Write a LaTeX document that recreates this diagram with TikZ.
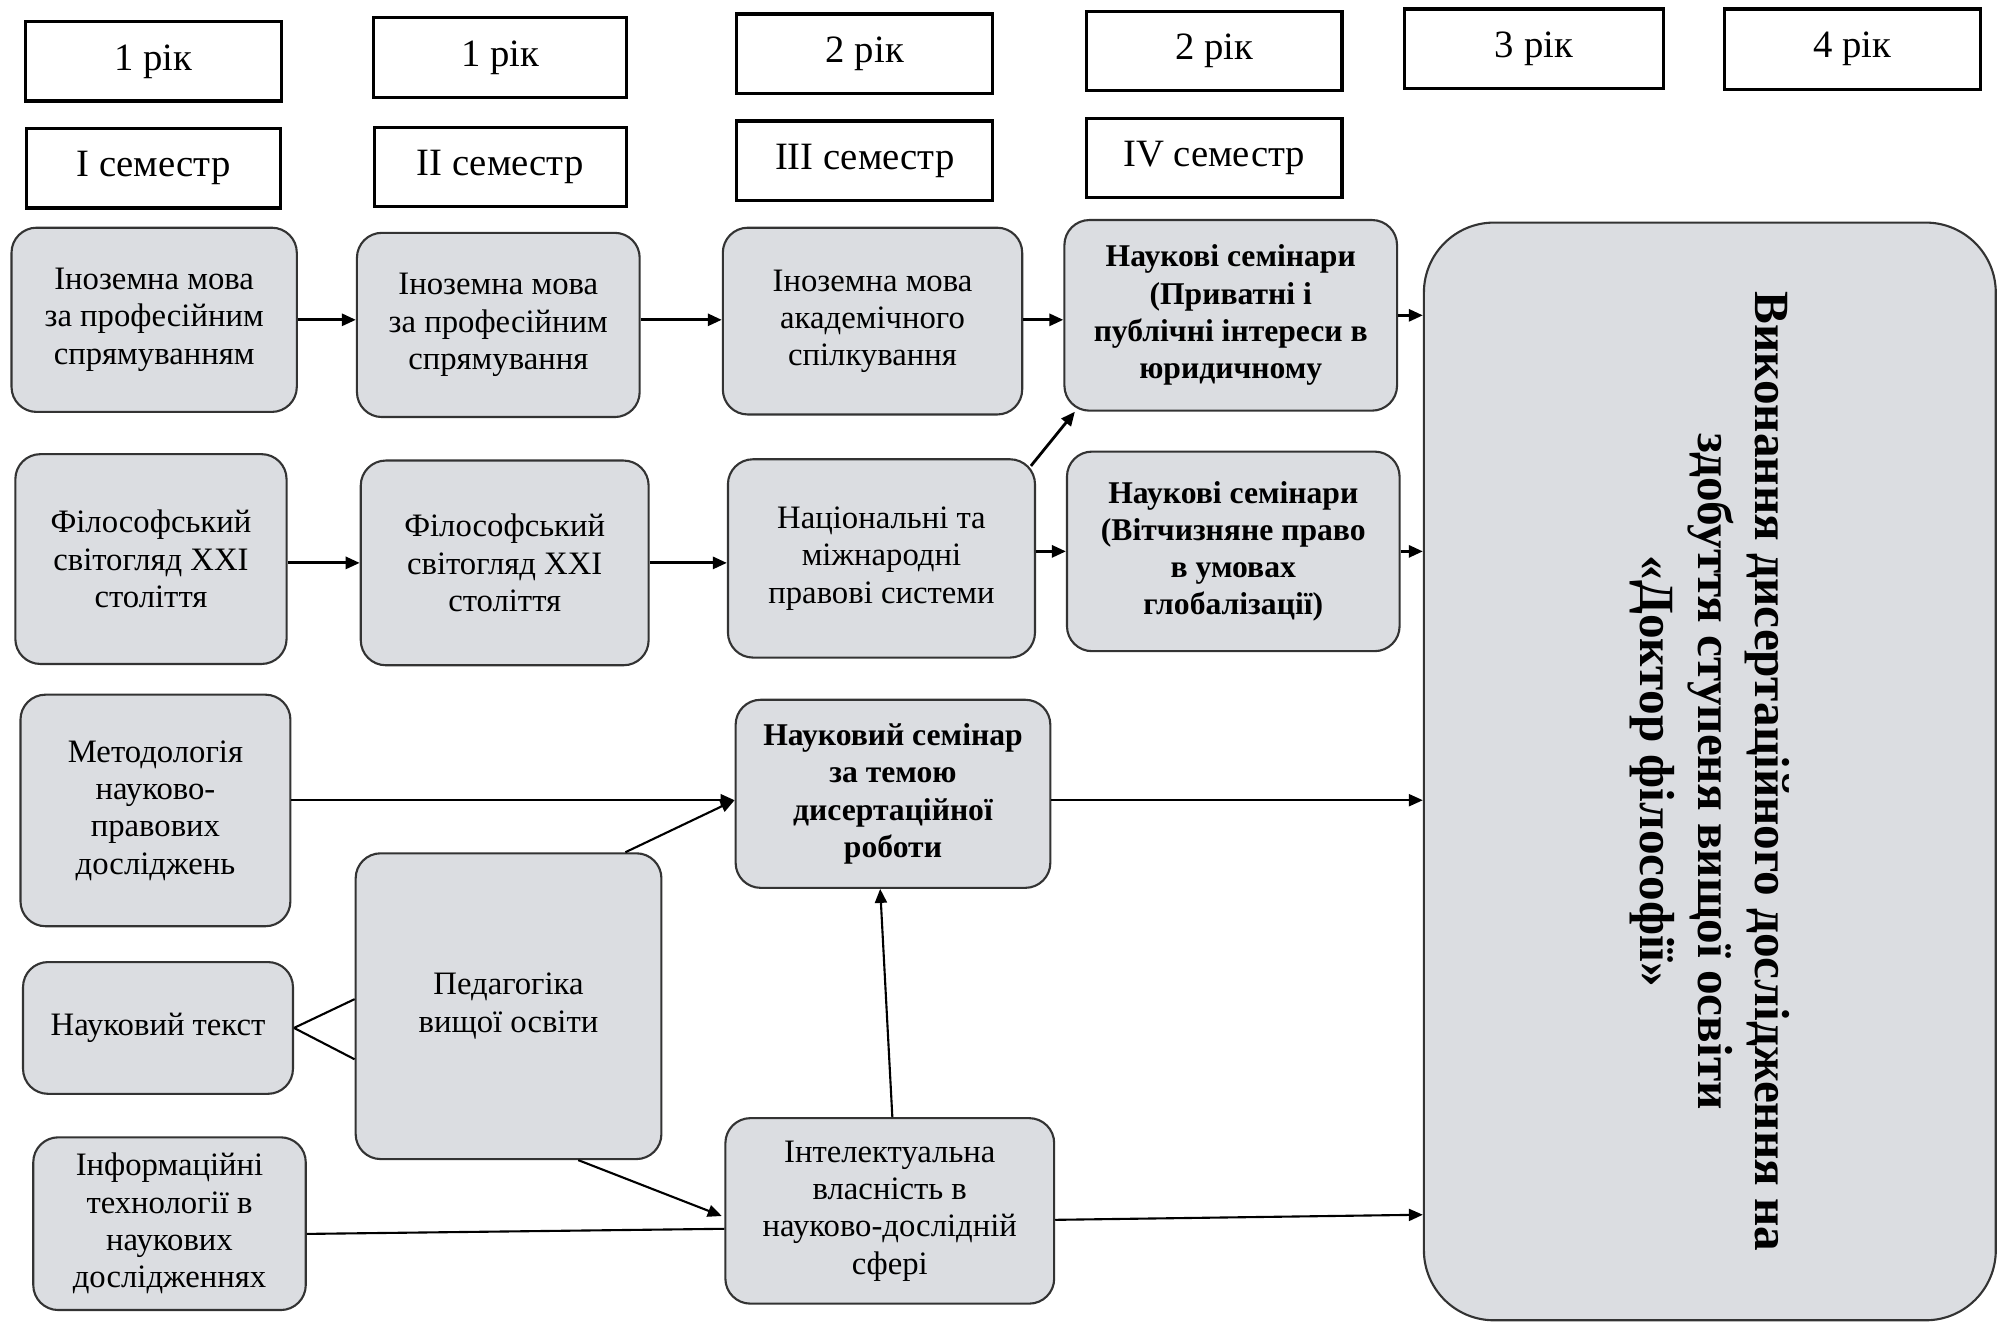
\documentclass[tikz,border=0pt]{standalone}
\usepackage{fontspec}
\setmainfont{Liberation Serif}
\usetikzlibrary{positioning, arrows.meta, calc}
\definecolor{boxgray}{RGB}{219,221,225}
\tikzset{
	every text node part/.style= {
		align=center
	},
	sz/.style 2 args= {
		minimum width=#1*0.012793cm,
		minimum height=#2*0.012793cm
	},
	yearbox/.style= {
		rectangle,
		draw,
		line width=0.9pt,
		inner sep=0pt,
		font=\fontsize{11}{13}\selectfont
	},
	gbox/.style= {
		rectangle,
		rounded corners=0.25cm,
		draw=black!80,
		fill=boxgray,
		line width=0.6pt,
		inner sep=0pt,
		font=\fontsize{9.3}{10.6}\selectfont
	},
	gboxb/.style= {
		gbox,
		font=\fontsize{9}{10.6}\selectfont\bfseries
	},
	arr/.style= {
		-{Triangle[length=1.4mm, width=1.2mm]},
		line width=0.8pt
	},
	thinarr/.style= {
		arr,
		line width=0.6pt
	},
	link/.style= {
		line width=0.6pt
	}
}

\begin{document}
\begin{tikzpicture}[x=0.012793cm, y=-0.012793cm]
	\useasboundingbox (0,0) rectangle (1568,1036);
	
	% years and semesters
	\node (year1a)[yearbox, sz={200}{62}] at (120,48) {1 рік};
	\node (year1b)[yearbox, sz={198}{62}] at (391,45) {1 рік};
	\node (year2a)[yearbox, sz={200}{62}] at (676,42) {2 рік};
	\node (year2b)[yearbox, sz={200}{62}] at (949,40) {2 рік};
	\node (year3)[yearbox, sz={202}{62}] at (1199,38) {3 рік};
	\node (year4)[yearbox, sz={200}{63}] at (1448,38.5) {4 рік};
	
	\node (sem1)[yearbox, sz={199}{62}, below=0.245cm of year1a]{I семестр};
	\node (sem2)[yearbox, sz={197}{62}, below=0.27cm of year1b]{II семестр};
	\node (sem3)[yearbox, sz={200}{62}, below=0.245cm of year2a]{III семестр};
	\node (sem4)[yearbox, sz={200}{62}, below=0.245cm of year2b]{IV семестр};
	
	% first row
	\node (lang1)[gbox, sz={223}{144}] at (120.5,250) {Іноземна мова\\за професійним\\спрямуванням};
	\node (lang2)[gbox, sz={221}{144}] at (389.5,254) {Іноземна мова\\за професійним\\спрямування};
	\node (lang3)[gbox, sz={234}{146}] at (682,251) {Іноземна мова\\академічного\\спілкування};
	\node (sci1)[gboxb, sz={260}{149}] at (962,246.5) {Наукові семінари\\(Приватні і\\публічні інтереси в\\юридичному};
	
	\node (thesis)[gbox, rounded corners=0.7cm, sz={447}{858}] at (1336.5,603) {};
	\node (thesistext)[rotate=-90, font=\fontsize{14}{16.4}\selectfont\bfseries] at (thesis.center) {Виконання дисертаційного дослідження на\\здобуття ступеня вищої освіти\\«Доктор філософії»};
	
	% second row
	\node (phil1)[gbox, sz={212}{164}] at (118,437) {Філософський\\світогляд XXI\\століття};
	\node (phil2)[gbox, sz={225}{160}] at (394.5,440) {Філософський\\світогляд XXI\\століття};
	\node (nat)[gbox, sz={240}{155}] at (689,436.5) {Національні та\\міжнародні\\правові системи};
	\node (sci2)[gboxb, sz={260}{156}] at (964,431) {Наукові семінари\\(Вітчизняне право\\в умовах\\глобалізації)};
	
	% lower part
	\node (meth)[gbox, sz={211}{181}] at (121.5,633.5) {Методологія\\науково-\\правових\\досліджень};
	\node (dis)[gboxb, sz={246}{147}] at (698,620.5) {Науковий семінар\\за темою\\дисертаційної\\роботи};
	\node (text)[gbox, sz={211}{103}] at (123.5,803.5) {Науковий текст};
	\node (ped)[gbox, sz={239}{239}] at (397.5,786.5) {Педагогіка\\вищої освіти};
	\node (info)[gbox, sz={213}{135}] at (132.5,956.5) {Інформаційні\\технології в\\наукових\\дослідженнях};
	\node (ip)[gbox, sz={257}{145}] at (695.5,946.5) {Інтелектуальна\\власність в\\науково-дослідній\\сфері};
	
	\coordinate (semin) at ($(dis.west)+(0,5)$);
	
	\draw[arr](lang1.east) -- (lang1.east -| lang2.west);
	\draw[arr](lang2.east |- lang1.east) -- (lang1.east -| lang3.west);
	\draw[arr](lang3.east |- lang1.east) -- (lang1.east -| sci1.west);
	\draw[arr](sci1.east) -- (sci1.east -| thesis.west);
	
	\draw[arr](phil1.east |- phil2.east) -- (phil2.west);
	\draw[arr](phil2.east) -- (phil2.east -| nat.west);
	\draw[arr](nat.east |- sci2.east) -- (sci2.west);
	\draw[arr](sci2.east) -- (sci2.east -| thesis.west);
	\draw[arr]($(nat.north east)+(-4,6)$) -- ($(sci1.south west)+(9,0)$);
	
	\draw[thinarr](meth.east |- semin) -- (semin);
	\draw[thinarr]($(ped.north east)+(-29,0)$) -- (semin);
	\draw[thinarr](dis.east |- semin) -- (thesis.west |- semin);
	
	\draw[link](text.east) -- ($(ped.west)+(0,-5.5)$);
	\draw[link](text.east) -- ($(ped.west)+(0,41.5)$);
	
	\draw[thinarr]($(ped.south)+(54.5,0)$) -- ($(ip.west)+(-2,4)$);
	\draw[link]($(info.east)+(0,8)$) -- ($(ip.west)+(0,14)$);
	\draw[thinarr]($(ip.north)+(2,0)$) -- ($(dis.south)+(-10,0)$);
	\draw[thinarr]($(ip.east)+(0,7)$) -- ($(ip.east -| thesis.west)+(0,3)$);
	
\end{tikzpicture}
\end{document}
